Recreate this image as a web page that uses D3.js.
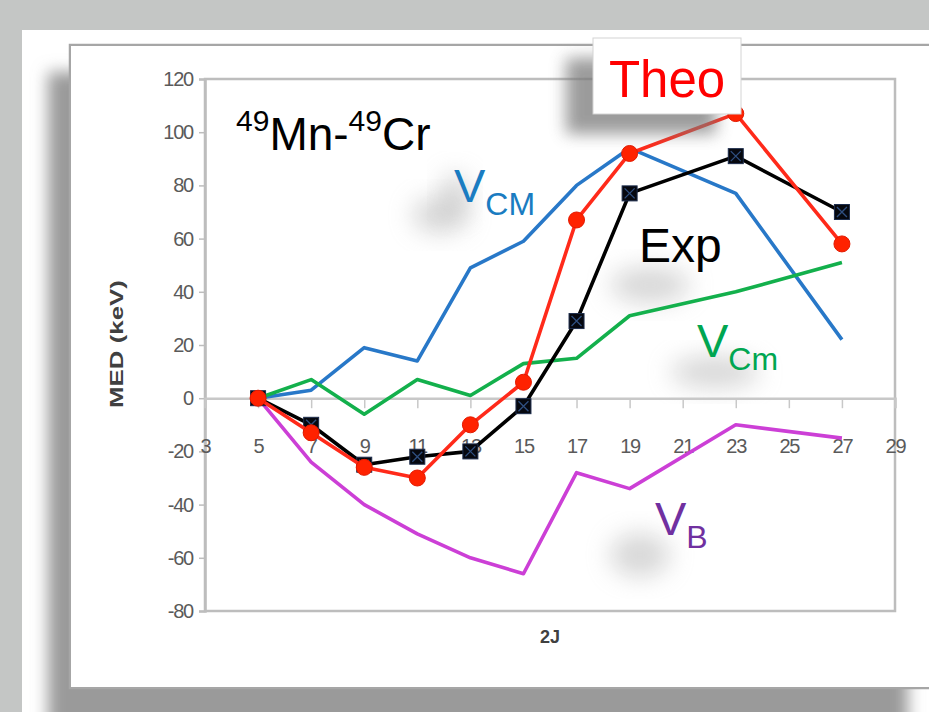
<!DOCTYPE html>
<html>
<head>
<meta charset="utf-8">
<script src="https://cdn.jsdelivr.net/npm/d3@7"></script>
<style>
  body { margin: 0; background: #c4c6c5; }
  svg { display: block; }
</style>
</head>
<body>
<div id="chart"></div>
<script>
// 2J values and MED (keV) for each curve
let twoJ = [5, 7, 9, 11, 13, 15, 17, 19, 23, 27];
let exp  = [0, -10, -25, -22, -20, -3, 29, 77, 91, 70];
let theo = [0, -13, -26, -30, -10, 6, 67, 92, 107, 58];
let vCM  = [0, 3, 19, 14, 49, 59, 80, 94, 77, 22];
let vCm  = [0, 7, -6, 7, 1, 13, 15, 31, 40, 51];
let vB   = [0, -24, -40, -51, -60, -66, -28, -34, -10, -15];

let xTicks = [3, 5, 7, 9, 11, 13, 15, 17, 19, 21, 23, 25, 27, 29];
let yTicks = [-80, -60, -40, -20, 0, 20, 40, 60, 80, 100, 120];

let dim = {'width': 929, 'height': 712};

let svg = d3.select('#chart').append('svg')
    .attr('width', dim.width)
    .attr('height', dim.height);

let defs = svg.append('defs');
defs.append('filter').attr('id', 'blur8')
    .attr('x', '-20%').attr('y', '-20%').attr('width', '140%').attr('height', '140%')
    .append('feGaussianBlur').attr('stdDeviation', 8);
defs.append('filter').attr('id', 'blur12')
    .attr('x', '-50%').attr('y', '-50%').attr('width', '200%').attr('height', '200%')
    .append('feGaussianBlur').attr('stdDeviation', 12);
defs.append('filter').attr('id', 'blur1')
    .append('feGaussianBlur').attr('stdDeviation', 0.6);

// slide background + framed chart with drop shadow
svg.append('rect').attr('x', 22).attr('y', 30).attr('width', 907).attr('height', 682).attr('fill', '#fff');
svg.append('rect').attr('x', 48).attr('y', 72).attr('width', 860).attr('height', 660)
    .attr('fill', '#9a9a9a').attr('filter', 'url(#blur8)');
svg.append('rect').attr('x', 70).attr('y', 45).attr('width', 880).attr('height', 643)
    .attr('fill', '#fff').attr('stroke', '#a6a6a6').attr('stroke-width', 2.5).attr('filter', 'url(#blur1)');
svg.append('rect').attr('x', 71).attr('y', 46).attr('width', 870).attr('height', 641).attr('fill', '#fff');

let scaleX = d3.scaleLinear().domain([3, 29]).range([205, 895]);
let scaleY = d3.scaleLinear().domain([-80, 120]).range([611, 79]);

// soft grey blobs behind the labels
let blobs = [[440, 215, 28, 18], [650, 285, 40, 18], [715, 372, 45, 16], [640, 555, 30, 22], [455, 195, 14, 22]];
svg.selectAll('ellipse.blob').data(blobs).join('ellipse')
    .attr('class', 'blob')
    .attr('cx', d => d[0]).attr('cy', d => d[1])
    .attr('rx', d => d[2]).attr('ry', d => d[3])
    .attr('fill', '#b0b0b0').attr('opacity', 0.5)
    .attr('filter', 'url(#blur12)');

// plot area border
svg.append('rect')
    .attr('x', scaleX(3)).attr('y', scaleY(120))
    .attr('width', scaleX(29) - scaleX(3)).attr('height', scaleY(-80) - scaleY(120))
    .attr('fill', 'none').attr('stroke', '#bdbdbd').attr('stroke-width', 2.5);

let tickFont = '"Liberation Sans", Arial, sans-serif';

let axisY = svg.append('g')
    .attr('transform', `translate(${scaleX(3)},0)`)
    .call(d3.axisLeft(scaleY).tickValues(yTicks).tickSize(6).tickPadding(6).tickFormat(d => String(d)));
axisY.select('.domain').attr('stroke', '#bdbdbd').attr('stroke-width', 2.5);
axisY.selectAll('.tick line').attr('stroke', '#bdbdbd').attr('stroke-width', 1.5);
axisY.selectAll('.tick text').attr('fill', '#5a5a5a').attr('font-size', 20)
    .attr('font-family', tickFont).attr('letter-spacing', -1.2);

let axisX = svg.append('g')
    .attr('transform', `translate(0,${scaleY(0)})`)
    .call(d3.axisBottom(scaleX).tickValues(xTicks).tickSize(10).tickPadding(31).tickFormat(d => String(d)));
axisX.select('.domain').attr('stroke', '#c8c8c8').attr('stroke-width', 2.5);
axisX.selectAll('.tick line').attr('stroke', '#c8c8c8').attr('stroke-width', 1.5);
axisX.selectAll('.tick').filter(d => d === 3).select('line').remove();
axisX.selectAll('.tick text').attr('fill', '#5a5a5a').attr('font-size', 20)
    .attr('font-family', tickFont).attr('letter-spacing', -1.2);

// axis titles
svg.append('text')
    .attr('transform', 'translate(123,344) rotate(-90)')
    .attr('text-anchor', 'middle')
    .attr('font-family', tickFont).attr('font-weight', 'bold').attr('font-size', 19)
    .attr('fill', '#404040')
    .attr('textLength', 128).attr('lengthAdjust', 'spacingAndGlyphs')
    .text('MED (keV)');
svg.append('text')
    .attr('x', 550).attr('y', 643)
    .attr('text-anchor', 'middle')
    .attr('font-family', tickFont).attr('font-weight', 'bold').attr('font-size', 18)
    .attr('fill', '#404040')
    .text('2J');

// curves
let line = d3.line().x(d => scaleX(d[0])).y(d => scaleY(d[1]));
let series = [
    {name: 'VCM', values: vCM, color: '#2878c8'},
    {name: 'VCm', values: vCm, color: '#13b04c'},
    {name: 'VB', values: vB, color: '#cc3fd6'},
    {name: 'Exp', values: exp, color: '#000000'},
    {name: 'Theo', values: theo, color: '#ff2a1a'}
];

svg.selectAll('path.curve').data(series).join('path')
    .attr('class', 'curve')
    .attr('d', d => line(twoJ.map((j, i) => [j, d.values[i]])))
    .attr('fill', 'none')
    .attr('stroke', d => d.color)
    .attr('stroke-width', 3.6)
    .attr('stroke-linejoin', 'round');

// Exp markers: dark squares with an x
let expPts = twoJ.map((j, i) => [j, exp[i]]);
let sq = svg.selectAll('g.sq').data(expPts).join('g')
    .attr('class', 'sq')
    .attr('transform', d => `translate(${scaleX(d[0])},${scaleY(d[1])})`);
sq.append('rect').attr('x', -7.5).attr('y', -7.5).attr('width', 15).attr('height', 15)
    .attr('fill', '#06080f').attr('stroke', '#1c2c4c').attr('stroke-width', 1);
sq.append('path').attr('d', 'M-5,-5L5,5M5,-5L-5,5')
    .attr('stroke', '#2f4f80').attr('stroke-width', 1.3);

// Theo line and dots on top
let theoPts = twoJ.map((j, i) => [j, theo[i]]);
svg.selectAll('path.curve').filter(d => d.name === 'Theo').raise();
svg.selectAll('circle.dot').data(theoPts).join('circle')
    .attr('class', 'dot')
    .attr('cx', d => scaleX(d[0])).attr('cy', d => scaleY(d[1]))
    .attr('r', 8)
    .attr('fill', '#ff2200').attr('stroke', '#e31a00').attr('stroke-width', 1);

// labels
let labelFont = '"Liberation Sans", Arial, sans-serif';

let title = svg.append('text').attr('x', 236).attr('y', 150)
    .attr('font-family', labelFont).attr('fill', '#000');
title.append('tspan').attr('font-size', 30).attr('dy', -19).text('49');
title.append('tspan').attr('font-size', 46).attr('dy', 19).text('Mn-');
title.append('tspan').attr('font-size', 30).attr('dy', -19).text('49');
title.append('tspan').attr('font-size', 46).attr('dy', 19).text('Cr');

function subLabel(x, y, main, sub, color, size, subSize) {
    let t = svg.append('text').attr('x', x).attr('y', y)
        .attr('font-family', labelFont).attr('fill', color);
    t.append('tspan').attr('font-size', size).text(main);
    t.append('tspan').attr('font-size', subSize).attr('dy', 13).text(sub);
}
subLabel(454, 202, 'V', 'CM', '#1a7cc1', 47, 32);
subLabel(697, 357, 'V', 'Cm', '#00a651', 47, 32);
subLabel(655, 535, 'V', 'B', '#7030a0', 47, 32);

svg.append('text').attr('x', 639).attr('y', 262)
    .attr('font-family', labelFont).attr('font-size', 48).attr('fill', '#000')
    .text('Exp');

// Theo box with shadow
svg.append('rect').attr('x', 566).attr('y', 58).attr('width', 150).attr('height', 76)
    .attr('fill', '#7a7a7a').attr('opacity', 0.75).attr('filter', 'url(#blur8)');
svg.append('rect').attr('x', 593).attr('y', 38).attr('width', 148).attr('height', 76)
    .attr('fill', '#fff').attr('stroke', '#d4d4d4').attr('stroke-width', 1);
svg.append('text').attr('x', 667).attr('y', 97)
    .attr('text-anchor', 'middle')
    .attr('font-family', labelFont).attr('font-size', 51).attr('fill', '#ff0000')
    .text('Theo');
</script>
</body>
</html>
